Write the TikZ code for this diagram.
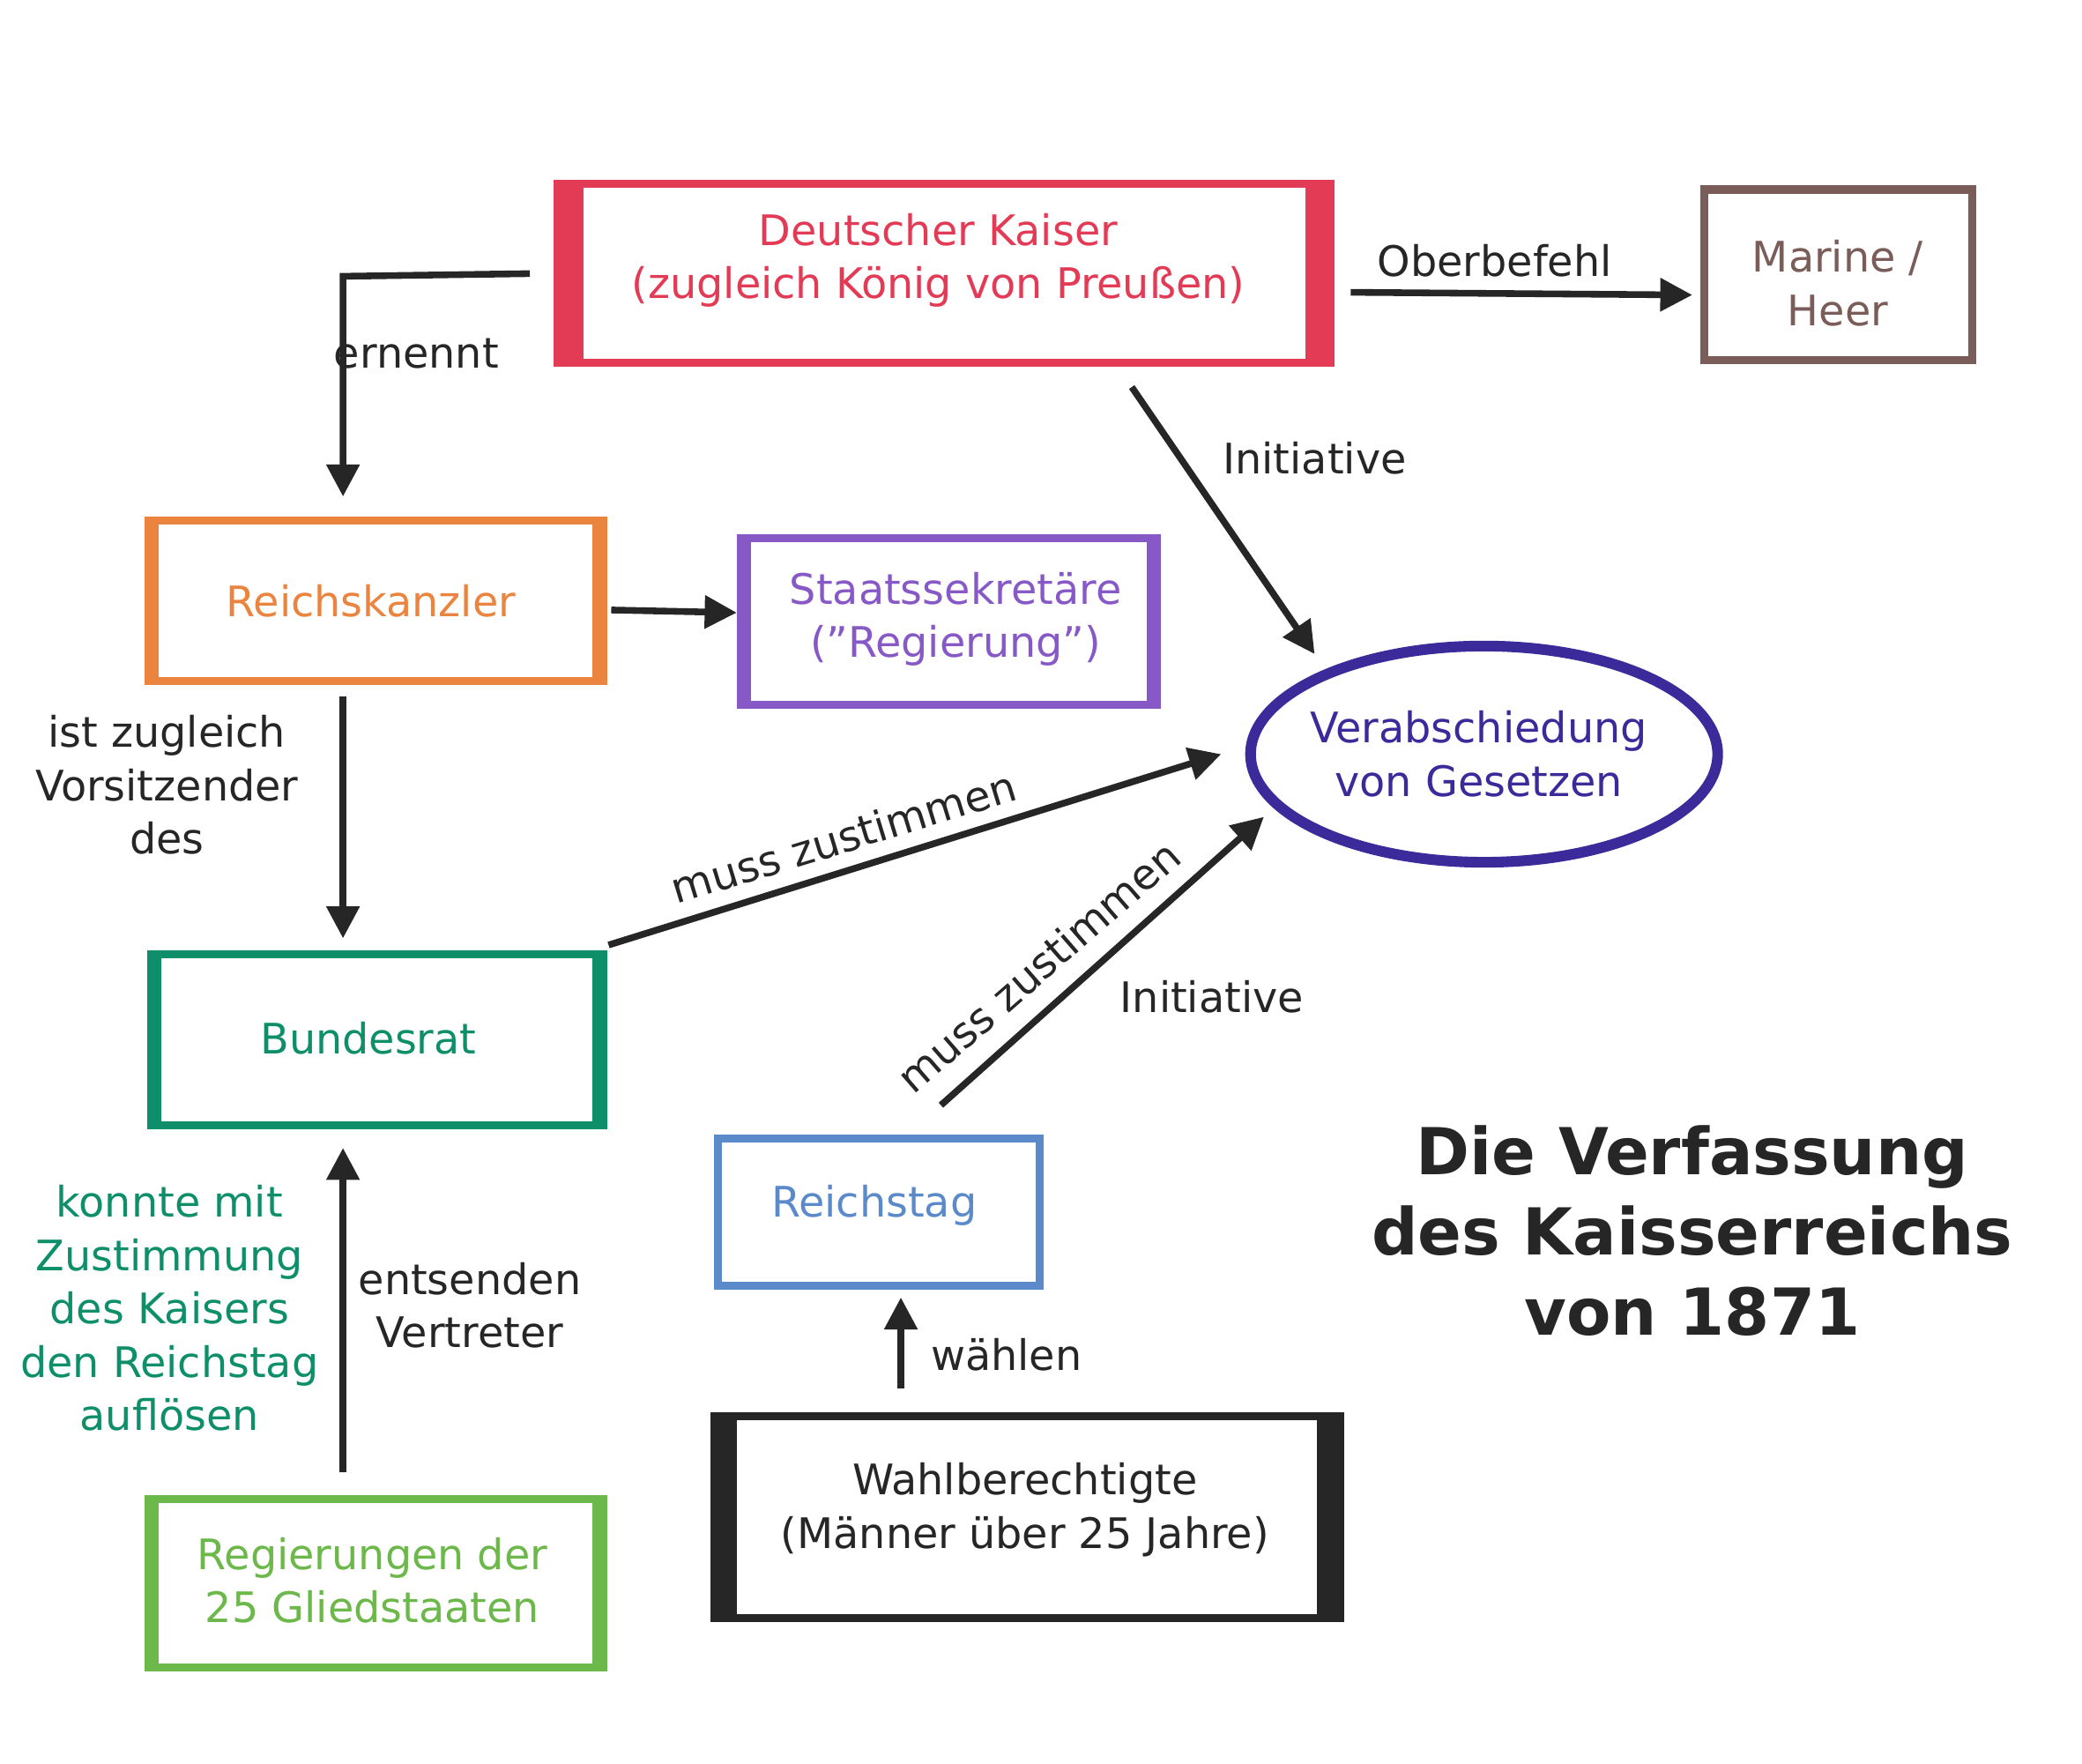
\documentclass[tikz,border=0pt]{standalone}
\usepackage{fontspec}
\setmainfont{DejaVu Sans}
\usetikzlibrary{arrows.meta,shapes.geometric}
\definecolor{kr}{HTML}{E33A55}
\definecolor{ko}{HTML}{EA843F}
\definecolor{kp}{HTML}{8659C7}
\definecolor{kt}{HTML}{0E8F6A}
\definecolor{kg}{HTML}{6CB84A}
\definecolor{kb}{HTML}{5B8ACB}
\definecolor{kbr}{HTML}{7A5C58}
\definecolor{ke}{HTML}{3A2A9A}
\definecolor{kk}{HTML}{262626}
\tikzset{
 conn/.style={draw=kk,line width=5pt,-{Triangle[length=24pt,width=24pt]}},
 lbl/.style={text=kk,font=\fontsize{31.5}{40}\selectfont,align=center,inner sep=1pt},
 bx/.style={font=\fontsize{31.5}{40}\selectfont,align=center,inner sep=0pt}
}
\newcommand{\kbox}[7]{% name, x1,y1,x2,y2, color, sidewidth
 \draw[#6,line width=6pt] (#2,#3) rectangle (#4,#5);
 \fill[#6] (#2-3,#3-3) rectangle (#2-3+#7,#5+3);
 \fill[#6] (#4+3-#7,#3-3) rectangle (#4+3,#5+3);
 \coordinate (#1) at ({(#2+#4)/2},{(#3+#5)/2});
}
\begin{document}
\begin{tikzpicture}[x=1pt,y=-1pt]
\useasboundingbox[fill=white] (0,0) rectangle (1560,1321);
\kbox{kaiser}{418}{138}{997}{272}{kr}{22}
\node[bx,text=kr] (kaisert) at (703,195) {Deutscher Kaiser\\(zugleich König von Preußen)};
\kbox{marine}{1277}{142}{1478}{270}{kbr}{6}
\node[bx,text=kbr] (marinet) at (1377,212) {Marine /\\Heer};
\kbox{rk}{111}{390}{452}{510}{ko}{11}
\node[bx,text=ko] (rkt) at (278,450) {Reichskanzler};
\kbox{ss}{555}{403}{867}{528}{kp}{11}
\node[bx,text=kp] (sst) at (716,464) {Staatssekretäre\\(”Regierung”)};
\kbox{br}{113}{715}{452}{843}{kt}{11}
\node[bx,text=kt] (brt) at (276,778) {Bundesrat};
\kbox{rg}{111}{1123}{452}{1249}{kg}{11}
\node[bx,text=kg] (rgt) at (279,1184) {Regierungen der\\25 Gliedstaaten};
\kbox{rt}{538}{853}{779}{963}{kb}{6}
\node[bx,text=kb] (rtt) at (655,903) {Reichstag};
\kbox{wb}{535}{1061}{1004}{1212}{kk}{20}
\node[bx,text=kk] (wbt) at (768,1131) {Wahlberechtigte\\(Männer über 25 Jahre)};
\node[draw=ke,line width=8pt,ellipse,minimum width=350pt,minimum height=162pt,inner sep=0pt] (ve) at (1112,565) {};
\node[bx,text=ke] at (1108,565) {Verabschiedung\\von Gesetzen};
\node[font=\bfseries\fontsize{48.5}{60}\selectfont,text=kk,align=center] (title) at (1268,922) {Die Verfassung\\des Kaisserreichs\\von 1871};
% connectors
\coordinate (a1) at (397,205); \coordinate (a2) at (257,207); \coordinate (a3) at (257,372);
\draw[conn] (a1) -- (a2) -- (a3);
\node[lbl] (l1) at (312,265) {ernennt};
\coordinate (b1) at (1012,219); \coordinate (b2) at (1268,221);
\draw[conn] (b1) -- (b2);
\node[lbl] (l2) at (1120,195) {Oberbefehl};
\coordinate (c1) at (848,290); \coordinate (c2) at (985,490);
\draw[conn] (c1) -- (c2);
\node[lbl] (l3) at (985,343) {Initiative};
\coordinate (d1) at (458,457); \coordinate (d2) at (552,459);
\draw[conn] (d1) -- (d2);
\coordinate (e1) at (257,522); \coordinate (e2) at (257,703);
\draw[conn] (e1) -- (e2);
\node[lbl] (l4) at (125,588) {ist zugleich\\Vorsitzender\\des};
\coordinate (f1) at (456,708); \coordinate (f2) at (915,565);
\draw[conn] (f1) -- (f2);
\node[lbl,rotate=17] (l5) at (632,627) {muss zustimmen};
\coordinate (g1) at (705,828); \coordinate (g2) at (947,612);
\draw[conn] (g1) -- (g2);
\node[lbl,rotate=41] (l6) at (778,724) {muss zustimmen};
\node[lbl] (l7) at (908,747) {Initiative};
\coordinate (h1) at (675,1040); \coordinate (h2) at (675,972);
\draw[conn] (h1) -- (h2);
\node[lbl] (l8) at (754,1015) {wählen};
\coordinate (i1) at (257,1103); \coordinate (i2) at (257,860);
\draw[conn] (i1) -- (i2);
\node[lbl] (l9) at (352,978) {entsenden\\Vertreter};
\node[lbl,text=kt] (l10) at (127,980) {konnte mit\\Zustimmung\\des Kaisers\\den Reichstag\\auflösen};
\end{tikzpicture}
\end{document}
